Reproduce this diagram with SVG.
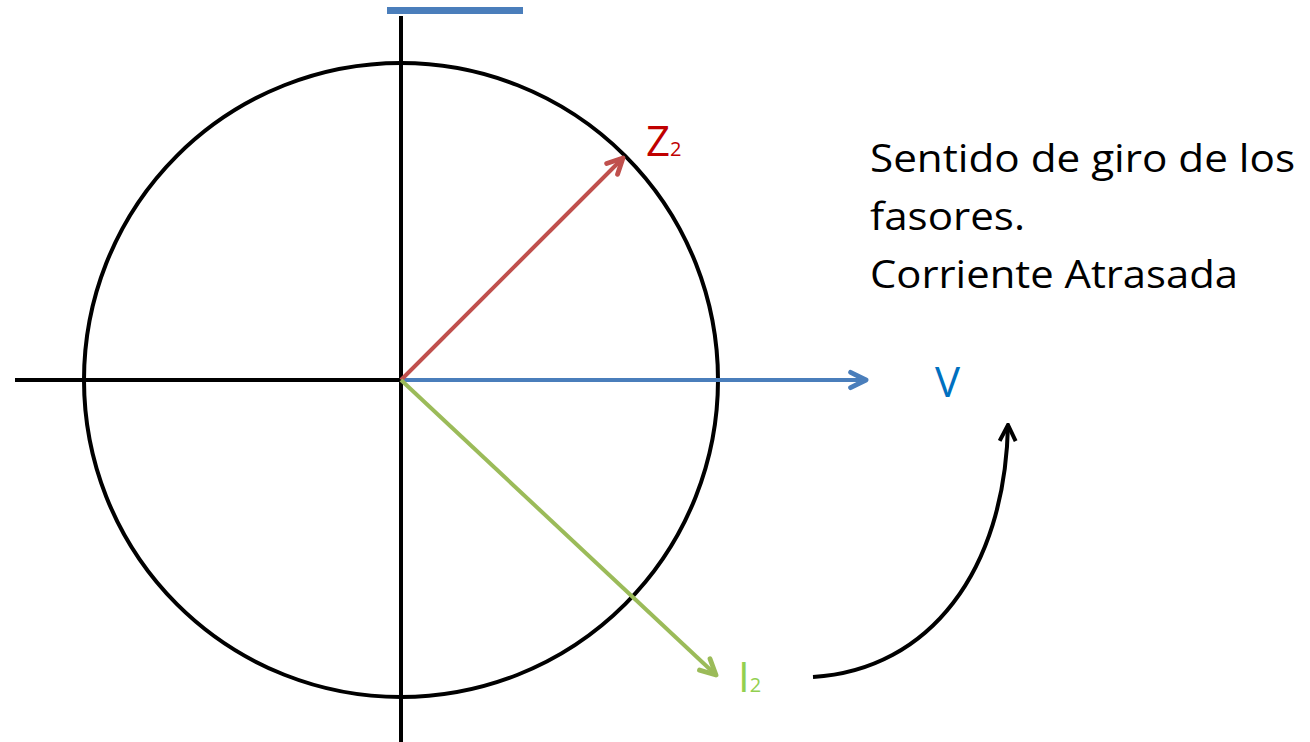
<svg xmlns="http://www.w3.org/2000/svg" width="1310" height="742" viewBox="0 0 1310 742">
<defs>
<style>
.k{stroke:#000;stroke-width:4;fill:none}
.t{font-family:"Open Sans","Liberation Sans",sans-serif}
</style>
<marker id="ab" viewBox="0 0 10 10" refX="8.5" refY="5" markerWidth="5.5" markerHeight="5.5" orient="auto" markerUnits="strokeWidth"><path d="M1.5,1.5 L8.5,5 L1.5,8.5" fill="none" stroke="#4a7ebb" stroke-width="2.2" stroke-linecap="round" stroke-linejoin="round"/></marker>
<marker id="ar" viewBox="0 0 10 10" refX="8.5" refY="5" markerWidth="5.5" markerHeight="5.5" orient="auto" markerUnits="strokeWidth"><path d="M1.5,1.5 L8.5,5 L1.5,8.5" fill="none" stroke="#c0504d" stroke-width="2.2" stroke-linecap="round" stroke-linejoin="round"/></marker>
<marker id="ag" viewBox="0 0 10 10" refX="8.5" refY="5" markerWidth="5.5" markerHeight="5.5" orient="auto" markerUnits="strokeWidth"><path d="M1.5,1.5 L8.5,5 L1.5,8.5" fill="none" stroke="#9bbb59" stroke-width="2.2" stroke-linecap="round" stroke-linejoin="round"/></marker>
<marker id="ak" viewBox="0 0 10 10" refX="9" refY="5" markerWidth="5" markerHeight="5" orient="auto" markerUnits="strokeWidth"><path d="M1,1 L9,5 L1,9" fill="none" stroke="#000" stroke-width="2"/></marker>
</defs>
<rect width="1310" height="742" fill="#fff"/>
<g id="bar"><rect x="387" y="7" width="136" height="7" fill="#4a7ebb"/></g>
<g id="circle"><circle cx="401" cy="380" r="317" class="k"/></g>
<g id="axes">
<line x1="401" y1="16" x2="401" y2="742" class="k"/>
<line x1="15" y1="380" x2="401" y2="380" class="k"/>
</g>
<g id="connectors">
<line x1="401" y1="380" x2="866" y2="380" stroke="#4a7ebb" stroke-width="4" marker-end="url(#ab)"/>
<line x1="401" y1="380" x2="623" y2="158" stroke="#c0504d" stroke-width="4" marker-end="url(#ar)"/>
<line x1="401" y1="380" x2="716" y2="675" stroke="#9bbb59" stroke-width="4" marker-end="url(#ag)"/>
<path d="M813,677 C930,670 1005,570 1008,425" class="k" marker-end="url(#ak)"/>
</g>
<g id="labels" class="t">
<text x="646" y="156" font-size="42" fill="#c00000">Z<tspan font-size="20">2</tspan></text>
<text x="935" y="397" font-size="42" fill="#0070c0">V</text>
<text x="738" y="692" font-size="42" fill="#92d050">I<tspan font-size="20">2</tspan></text>
</g>
<g id="note" class="t" font-size="38" fill="#000">
<text x="870" y="172" textLength="425" lengthAdjust="spacingAndGlyphs">Sentido de giro de los</text>
<text x="870" y="230" textLength="155" lengthAdjust="spacingAndGlyphs">fasores.</text>
<text x="870" y="288" textLength="368" lengthAdjust="spacingAndGlyphs">Corriente Atrasada</text>
</g>
</svg>
